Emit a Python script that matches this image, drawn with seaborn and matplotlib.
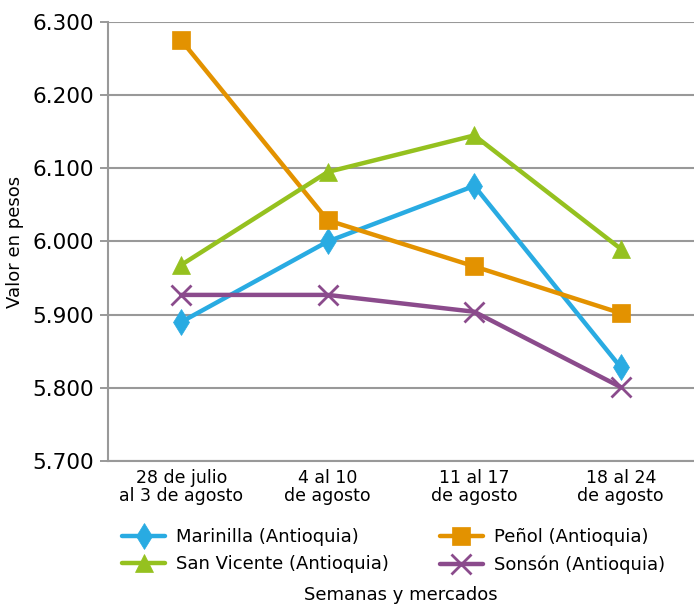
import matplotlib
matplotlib.use('Agg')
import matplotlib.pyplot as plt
import matplotlib.ticker as mticker
import numpy as np
import pandas as pd
import seaborn as sns

# Weekly prices per market (pesos)
weeks = ['28 de julio\nal 3 de agosto', '4 al 10\nde agosto', '11 al 17\nde agosto', '18 al 24\nde agosto']
markets = ['Marinilla (Antioquia)', 'Peñol (Antioquia)', 'San Vicente (Antioquia)', 'Sonsón (Antioquia)']
marinilla = [5890, 6000, 6076, 5828]
penol = [6275, 6029, 5966, 5902]
san_vicente = [5968, 6095, 6145, 5990]
sonson = [5927, 5927, 5904, 5801]

colors = ['#29ABE2', '#E39200', '#95C11F', '#8B4B8C']
markers = ['d', 's', '^', 'x']

sns.set_style('white')
plt.rcParams['font.family'] = ['DejaVu Sans']
plt.rcParams['text.color'] = 'black'
plt.rcParams['axes.labelcolor'] = 'black'
plt.rcParams['xtick.color'] = 'black'
plt.rcParams['ytick.color'] = 'black'

rows = []
for name, vals in zip(markets, [marinilla, penol, san_vicente, sonson]):
    for i, v in enumerate(vals):
        rows.append({'semana': i, 'mercado': name, 'valor': v})
df = pd.DataFrame(rows)

fig = plt.figure(figsize=(6.94, 6.07), dpi=100)
ax = fig.add_axes([0.1556, 0.2405, 0.8444, 0.7233])

for name, c, m in zip(markets, colors, markers):
    sub = df[df['mercado'] == name]
    sns.lineplot(data=sub, x='semana', y='valor', ax=ax, color=c, linewidth=3.2,
                 marker=m, markersize=13 if m != 'x' else 14,
                 markeredgewidth=2 if m == 'x' else 0.5, markeredgecolor=c,
                 label=name, zorder=3)

ax.set_xlim(-0.5, 3.5)
ax.set_ylim(5700, 6300)
ax.set_yticks(np.arange(5700, 6301, 100))
ax.yaxis.set_major_formatter(mticker.FuncFormatter(lambda v, p: f'{v:,.0f}'.replace(',', '.')))
ax.set_xticks(range(len(weeks)))
ax.set_xticklabels(weeks, fontsize=12.5, linespacing=0.95)
ax.tick_params(axis='y', labelsize=15.5, length=6, color='#888888', width=1.2, direction='out', pad=4, left=True)
ax.tick_params(axis='x', length=0, pad=6)
ax.grid(axis='y', color='#999999', linewidth=1.5)
ax.set_axisbelow(True)
for s in ['top', 'right']:
    ax.spines[s].set_visible(False)
for s in ['left', 'bottom']:
    ax.spines[s].set_color('#999999')
    ax.spines[s].set_linewidth(1.5)

ax.set_xlabel('')
ax.set_ylabel('Valor en pesos', fontsize=13, labelpad=6)

handles, labels = ax.get_legend_handles_labels()
ax.get_legend().remove()
order = [0, 2, 1, 3]  # fill legend row by row
fig.legend([handles[i] for i in order], [labels[i] for i in order], ncol=2, loc='center',
           bbox_to_anchor=(0.567, 0.092), frameon=False, fontsize=13, handlelength=2.4,
           columnspacing=2.8, labelspacing=0.5, handletextpad=0.6)
fig.text(0.577, 0.02, 'Semanas y mercados', ha='center', va='center', fontsize=13)

fig.savefig('out.png', dpi=100)
